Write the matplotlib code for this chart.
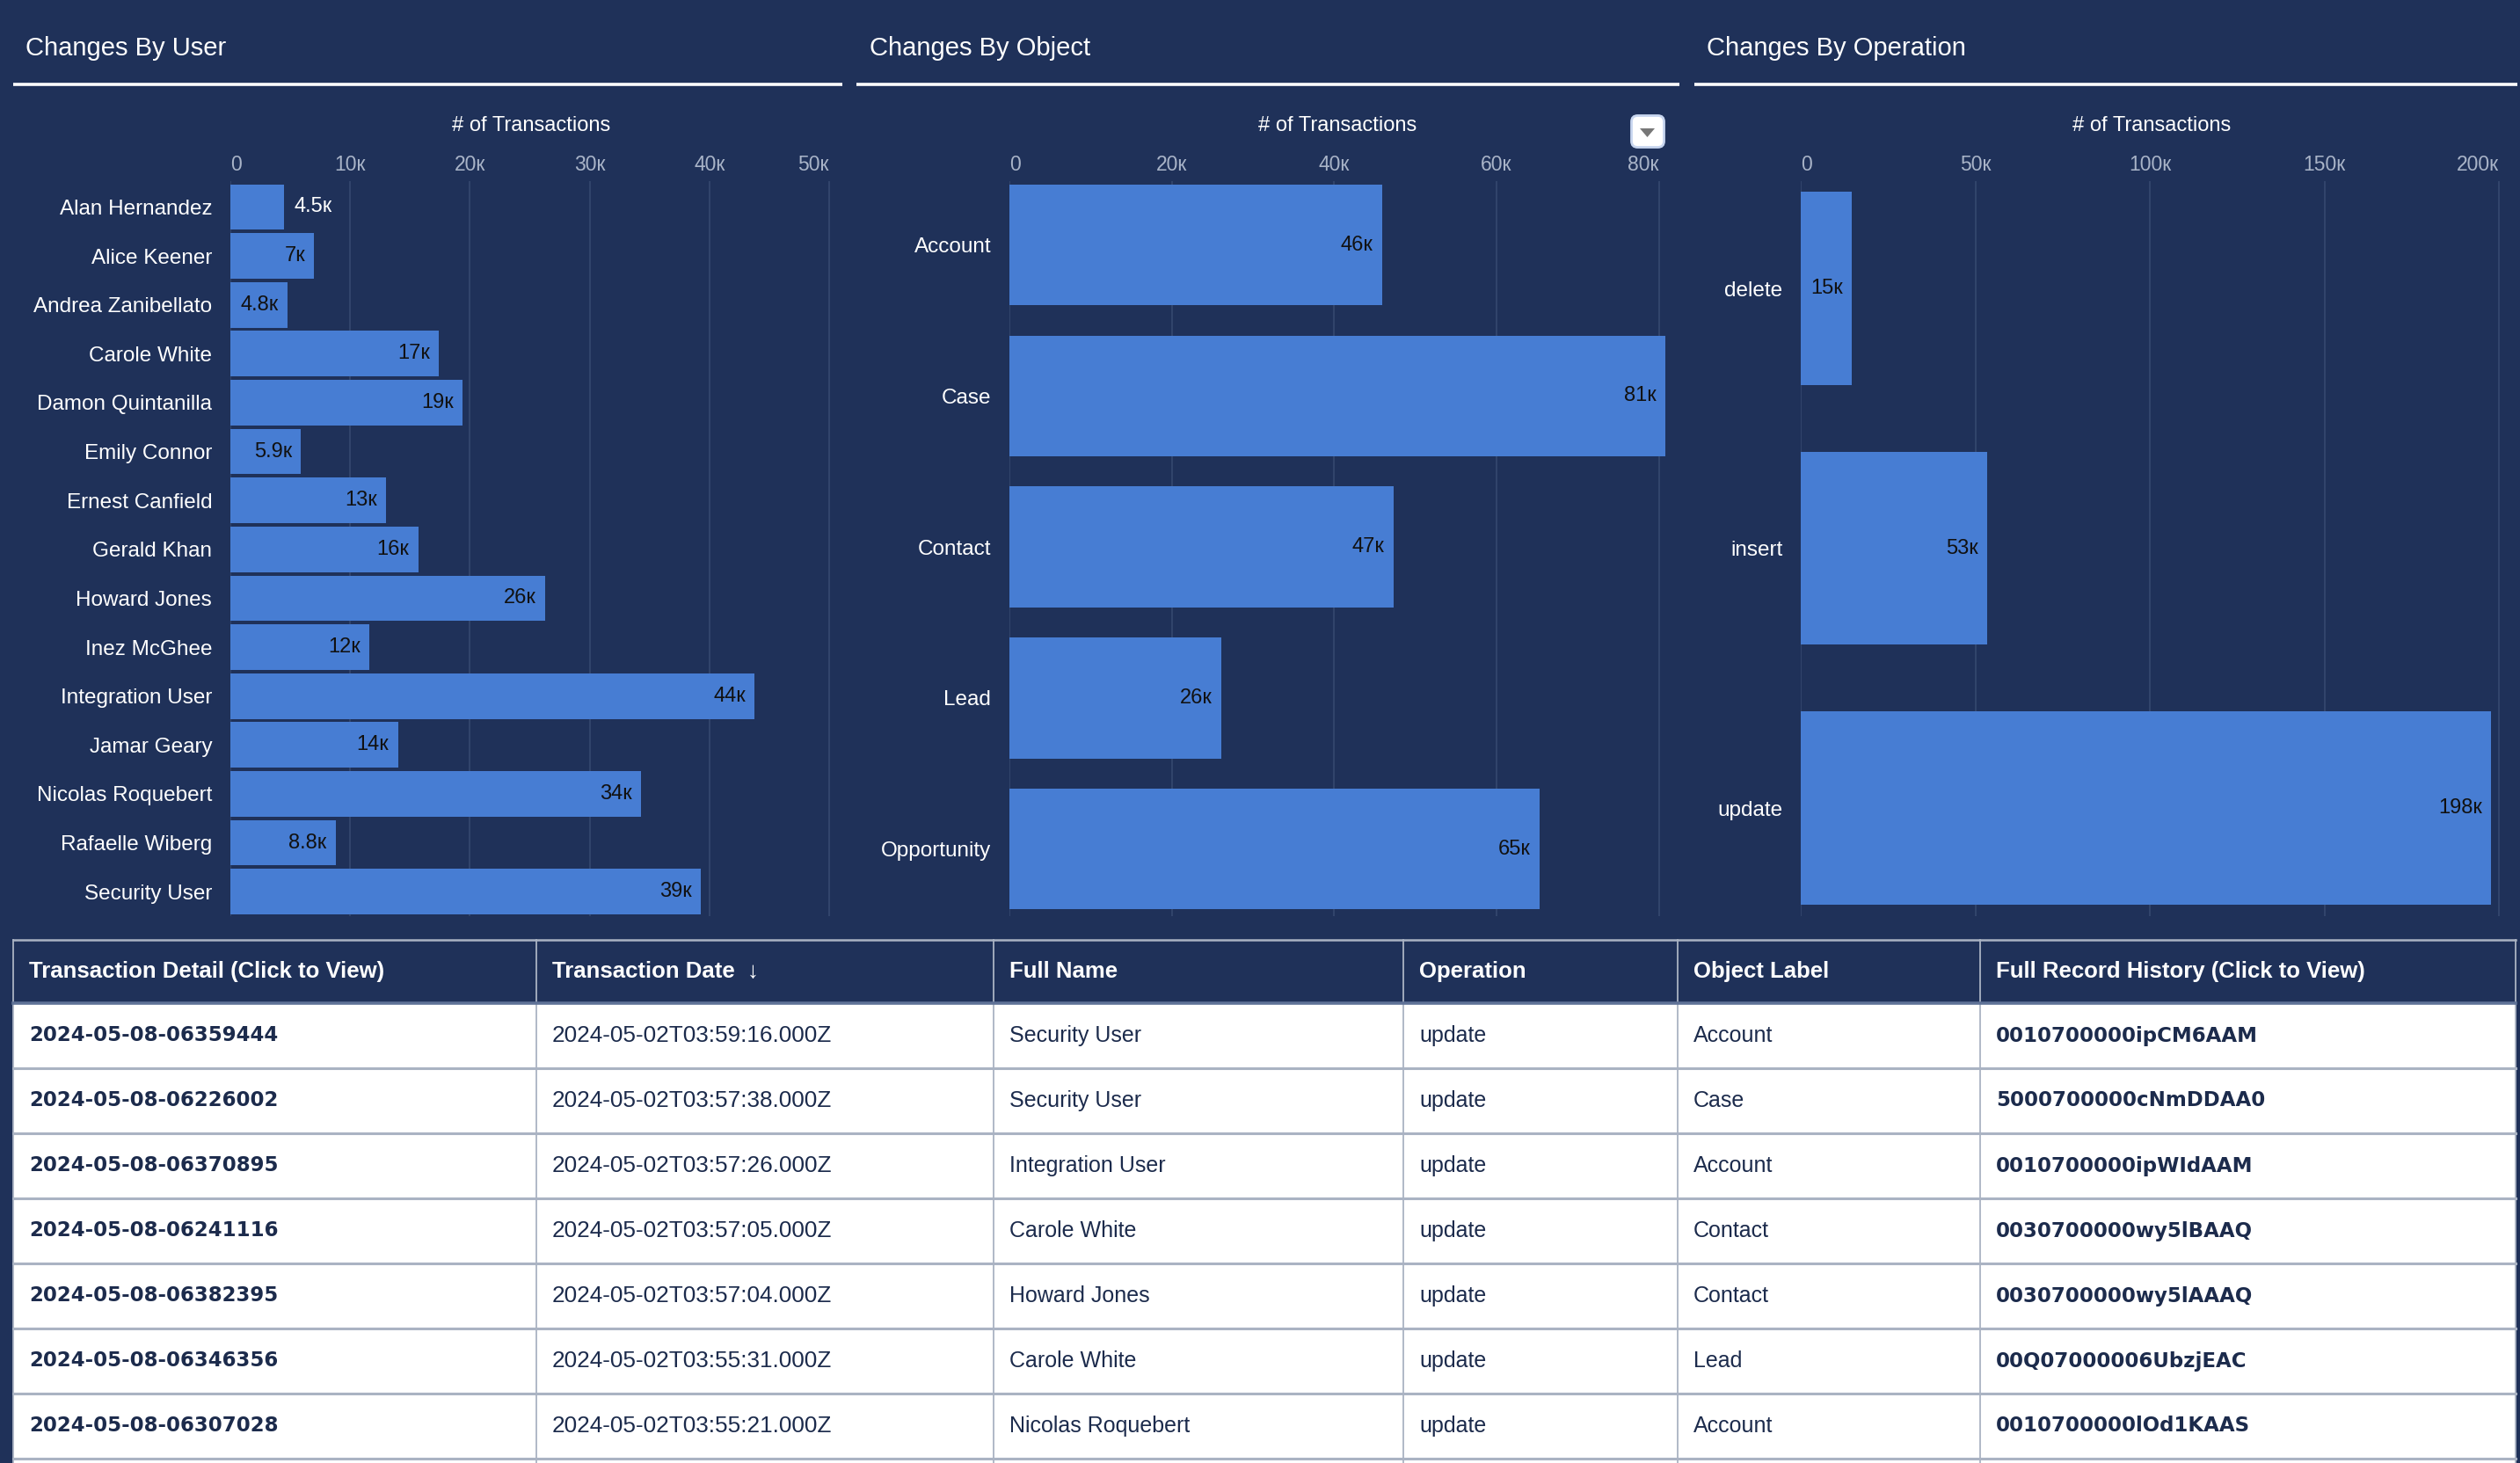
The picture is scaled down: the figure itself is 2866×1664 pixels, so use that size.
import matplotlib
matplotlib.use('Agg')
import matplotlib.pyplot as plt
from matplotlib.patches import Rectangle, FancyBboxPatch, Polygon

plt.rcParams['font.family'] = ['Liberation Sans', 'DejaVu Sans']

# --- data ---
users = ['Alan Hernandez', 'Alice Keener', 'Andrea Zanibellato', 'Carole White',
         'Damon Quintanilla', 'Emily Connor', 'Ernest Canfield', 'Gerald Khan',
         'Howard Jones', 'Inez McGhee', 'Integration User', 'Jamar Geary',
         'Nicolas Roquebert', 'Rafaelle Wiberg', 'Security User']
user_counts = [4500, 7000, 4800, 17400, 19400, 5900, 13000, 15700,
               26300, 11600, 43800, 14000, 34300, 8800, 39300]

objects = ['Account', 'Case', 'Contact', 'Lead', 'Opportunity']
object_counts = [45900, 80800, 47300, 26100, 65300]

operations = ['delete', 'insert', 'update']
operation_counts = [14700, 53400, 197800]

user_ticks = [0, 10000, 20000, 30000, 40000, 50000]
object_ticks = [0, 20000, 40000, 60000, 80000]
operation_ticks = [0, 50000, 100000, 150000, 200000]

table_headers = ['Transaction Detail (Click to View)', 'Transaction Date  \u2193', 'Full Name',
                 'Operation', 'Object Label', 'Full Record History (Click to View)']
detail_ids = ['2024-05-08-06359444', '2024-05-08-06226002', '2024-05-08-06370895',
              '2024-05-08-06241116', '2024-05-08-06382395', '2024-05-08-06346356',
              '2024-05-08-06307028']
tx_dates = ['2024-05-02T03:59:16.000Z', '2024-05-02T03:57:38.000Z', '2024-05-02T03:57:26.000Z',
            '2024-05-02T03:57:05.000Z', '2024-05-02T03:57:04.000Z', '2024-05-02T03:55:31.000Z',
            '2024-05-02T03:55:21.000Z']
full_names = ['Security User', 'Security User', 'Integration User', 'Carole White',
              'Howard Jones', 'Carole White', 'Nicolas Roquebert']
row_ops = ['update', 'update', 'update', 'update', 'update', 'update', 'update']
object_labels = ['Account', 'Case', 'Account', 'Contact', 'Contact', 'Lead', 'Account']
record_ids = ['0010700000ipCM6AAM', '5000700000cNmDDAA0', '0010700000ipWIdAAM',
              '0030700000wy5lBAAQ', '0030700000wy5lAAAQ', '00Q07000006UbzjEAC',
              '0010700000lOd1KAAS']

# --- style ---
BG = '#1f3159'
BAR = '#477dd3'
GRID = '#34476e'
TICK = '#a9b4c8'
NAVY_TXT = '#1c2b4c'
LINE = '#aab3c3'

W, H = 2866, 1664
fig = plt.figure(figsize=(W / 100, H / 100), dpi=100, facecolor=BG)

# overlay in pixel coordinates for titles, table, etc.
ov = fig.add_axes([0, 0, 1, 1])
ov.set_xlim(0, W)
ov.set_ylim(H, 0)
ov.axis('off')


def add_ax(left, top, right, bottom):
    return fig.add_axes([left / W, 1 - bottom / H, (right - left) / W, (bottom - top) / H])


def kfmt(v):
    if v == 0:
        return '0'
    return '%d\u043a' % (v // 1000)


def vfmt(v):
    k = v / 1000.0
    if k < 10:
        s = ('%.1f' % k).rstrip('0').rstrip('.')
    else:
        s = '%d' % round(k)
    return s + '\u043a'


def bar_panel(ax, cats, vals, ticks, xmax, height, ylim):
    ax.set_facecolor('none')
    ax.barh(range(len(cats)), vals, height=height, color=BAR, zorder=2)
    ax.set_xlim(0, xmax)
    ax.set_ylim(ylim[1], ylim[0])
    ax.set_xticks(ticks)
    ax.set_xticklabels([kfmt(t) for t in ticks])
    ax.xaxis.tick_top()
    ax.tick_params(axis='x', length=0, pad=5, labelsize=16.5, labelcolor=TICK)
    tl = ax.get_xticklabels()
    tl[0].set_ha('left')
    tl[-1].set_ha('right')
    ax.set_yticks(range(len(cats)))
    ax.set_yticklabels(cats)
    ax.tick_params(axis='y', length=0, pad=15, labelsize=17.5, labelcolor='white')
    ax.grid(axis='x', color=GRID, lw=1.3, zorder=0)
    ax.set_axisbelow(True)
    for s in ax.spines.values():
        s.set_visible(False)
    labels = []
    for i, v in enumerate(vals):
        t = ax.annotate(vfmt(v), xy=(v, i), xytext=(-7.5, 0), textcoords='offset points',
                        ha='right', va='center', fontsize=17, color='#111111', zorder=3)
        labels.append((t, v))
    return labels


ax1 = add_ax(262, 206, 947, 1042)
lab1 = bar_panel(ax1, users, user_counts, user_ticks, 50300, 0.93, (-0.53, 14.5))
ax2 = add_ax(1148, 206, 1894, 1042)
lab2 = bar_panel(ax2, objects, object_counts, object_ticks, 80800, 0.8, (-0.422, 4.444))
ax3 = add_ax(2048, 206, 2846, 1042)
lab3 = bar_panel(ax3, operations, operation_counts, operation_ticks, 201000, 0.744, (-0.413, 2.416))

# labels that do not fit inside their bar go outside, in white
fig.canvas.draw()
rend = fig.canvas.get_renderer()
for ax, labs in ((ax1, lab1), (ax2, lab2), (ax3, lab3)):
    for t, v in labs:
        bar_px = ax.transData.transform((v, 0))[0] - ax.transData.transform((0, 0))[0]
        tw = t.get_window_extent(rend).width
        if bar_px < tw + 21:
            t.set_ha('left')
            t.set_position((8, 0))
            t.set_color('white')

# panel titles and underlines
titles = ['Changes By User', 'Changes By Object', 'Changes By Operation']
title_x = [29, 989, 1941]
rules = [(15, 958), (974, 1910), (1927, 2863)]
for ttl, tx, (r0, r1) in zip(titles, title_x, rules):
    ov.text(tx, 55, ttl, fontsize=21, color='white', ha='left', va='center')
    ov.plot([r0, r1], [96, 96], color='white', lw=2.6, solid_capstyle='butt')

for ax in (ax1, ax2, ax3):
    pos = ax.get_position()
    cx = (pos.x0 + pos.x1) / 2 * W
    ov.text(cx, 143, '# of Transactions', fontsize=17, color='white', ha='center', va='center')

# dropdown button
ov.add_patch(FancyBboxPatch((1857, 133), 34, 33, boxstyle='round,pad=1.5,rounding_size=7',
                            facecolor='white', edgecolor='#c8d6f0', lw=2))
ov.add_patch(Polygon([(1865, 146), (1882, 146), (1873.5, 156)], closed=True,
                     facecolor='#777777', edgecolor='none'))

# table
col_x = [15, 610, 1130, 1596, 1908, 2252, 2861]
t_top, h_bot, row_h = 1069, 1141, 74
ov.add_patch(Rectangle((col_x[0], h_bot), col_x[-1] - col_x[0], H - h_bot,
                       facecolor='white', edgecolor='none'))
ov.plot([col_x[0], col_x[-1]], [t_top, t_top], color=LINE, lw=1.8)
for xc in col_x:
    ov.plot([xc, xc], [t_top, H], color=LINE, lw=1.3)
columns = [detail_ids, tx_dates, full_names, row_ops, object_labels, record_ids]
n_rows = len(detail_ids)
for r in range(n_rows):
    yb = h_bot + (r + 1) * row_h
    ov.plot([col_x[0], col_x[-1]], [yb, yb], color=LINE, lw=2.2)
ov.plot([col_x[0], col_x[-1]], [h_bot, h_bot], color='#5f7297', lw=2.6)

for c, hdr in enumerate(table_headers):
    ov.text(col_x[c] + 18, (t_top + h_bot) / 2, hdr, fontsize=18.5, fontweight='bold',
            color='white', ha='left', va='center', family=['Liberation Sans', 'DejaVu Sans'])
    bold = c in (0, 5)
    for r, val in enumerate(columns[c]):
        yc = h_bot + (r + 0.5) * row_h
        if bold:
            ov.text(col_x[c] + 18, yc, val, fontsize=16.5, fontweight='bold',
                    family=['DejaVu Sans'], color=NAVY_TXT, ha='left', va='center')
        else:
            fs = 18.8 if c == 1 else 18
            ov.text(col_x[c] + 18, yc, val, fontsize=fs, color=NAVY_TXT,
                    ha='left', va='center')

fig.savefig('out.png', dpi=100, facecolor=BG)
